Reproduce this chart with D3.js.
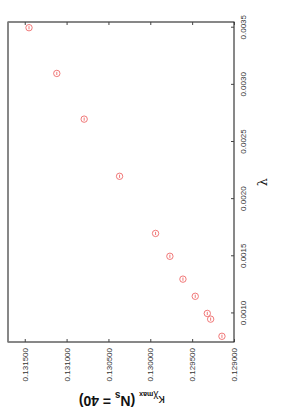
<!DOCTYPE html>
<html>
<head>
<meta charset="utf-8">
<script src="https://cdn.jsdelivr.net/npm/d3@7"></script>
<style>
  body { margin: 0; background: #fff; }
  svg { display: block; }
  .tick text { font-family: "Liberation Sans", Arial, sans-serif; font-size: 8px; fill: #333; }
  .tick line { stroke: #444; }
</style>
</head>
<body>
<div id="chart"></div>
<script>
// data (lambda vs kappa at chi max, Ns = 40)
const lambda = [0.0035, 0.0031, 0.0027, 0.0022, 0.0017, 0.0015, 0.0013, 0.00115, 0.0010, 0.00095, 0.0008]
const kappa = [0.131449, 0.131117, 0.130790, 0.130367, 0.129937, 0.129766, 0.129610, 0.129463, 0.129319, 0.129279, 0.129144]
const lambdaTicks = [0.0010, 0.0015, 0.0020, 0.0025, 0.0030, 0.0035]
const kappaTicks = [0.1290, 0.1295, 0.1300, 0.1305, 0.1310, 0.1315]

const svgWidth = 291
const svgHeight = 415

// the whole plot is drawn unrotated, then turned a quarter turn
const W = svgHeight, H = svgWidth
const margin = { left: 73, right: 22, top: 8, bottom: 57 }
const width = W - margin.left - margin.right
const height = H - margin.top - margin.bottom

const svg = d3.select('#chart')
    .append('svg')
    .attr('width', svgWidth)
    .attr('height', svgHeight)

const g = svg.append('g')
    .attr('transform', `translate(0,${svgHeight}) rotate(-90)`)
    .append('g')
    .attr('transform', `translate(${margin.left},${margin.top})`)

const x = d3.scaleLinear()
    .domain([0.00075, 0.00355])
    .range([0, width])

const y = d3.scaleLinear()
    .domain([0.1290, 0.1317])
    .range([height, 0])

// frame
g.append('rect')
    .attr('width', width)
    .attr('height', height)
    .attr('fill', 'none')
    .attr('stroke', '#111')
    .attr('stroke-width', 1)
g.append('line')
    .attr('x1', 0).attr('x2', width)
    .attr('y1', 0).attr('y2', 0)
    .attr('stroke', '#888')
    .attr('stroke-width', 1.6)

// lambda axis
const xAxis = g.append('g')
    .attr('transform', `translate(0,${height})`)
    .call(d3.axisBottom(x).tickValues(lambdaTicks).tickFormat(d3.format('.4f'))
        .tickSizeInner(-3).tickSizeOuter(0).tickPadding(6))
xAxis.select('.domain').remove()

// kappa axis + mirror
const yAxis = g.append('g')
    .call(d3.axisLeft(y).tickValues(kappaTicks).tickFormat(d3.format('.6f'))
        .tickSizeInner(-3).tickSizeOuter(0).tickPadding(6))
yAxis.select('.domain').remove()

const yMirror = g.append('g')
    .attr('transform', `translate(${width},0)`)
    .call(d3.axisRight(y).tickValues(kappaTicks).tickFormat('')
        .tickSizeInner(-3).tickSizeOuter(0))
yMirror.select('.domain').remove()

// axis labels
g.append('text')
    .attr('x', x(0.00215))
    .attr('y', height + 33)
    .attr('text-anchor', 'middle')
    .style('font-family', '"DejaVu Serif", serif')
    .style('font-size', '13px')
    .attr('fill', '#111')
    .text('λ')

const ylab = g.append('text')
    .attr('transform', `translate(${-53.5},${y(0.13034)}) rotate(-90)`)
    .attr('text-anchor', 'middle')
    .style('font-family', '"Liberation Sans", Arial, sans-serif')
    .style('font-size', '14px')
    .style('font-weight', 'bold')
    .attr('fill', '#111')
ylab.append('tspan').text('κ').style('font-weight', 'normal').style('font-size', '13px')
ylab.append('tspan').text('χ').attr('dy', 3).style('font-size', '10px').style('font-weight', 'normal')
ylab.append('tspan').text('max').attr('dy', 1).style('font-size', '7px')
ylab.append('tspan').text(' (N').attr('dy', -4)
ylab.append('tspan').text('s').attr('dy', 4).style('font-size', '10px')
ylab.append('tspan').text(' = 40)').attr('dy', -4)

// points with a small bar inside
const pts = lambda.map((l, i) => ({ lambda: l, kappa: kappa[i] }))
const color = '#ee6a6a'

g.append('g')
    .selectAll('circle')
    .data(pts)
    .join('circle')
    .attr('cx', d => x(d.lambda))
    .attr('cy', d => y(d.kappa))
    .attr('r', 3.2)
    .attr('fill', 'none')
    .attr('stroke', color)
    .attr('stroke-width', 0.9)

g.append('g')
    .selectAll('line')
    .data(pts)
    .join('line')
    .attr('x1', d => x(d.lambda) - 1.6)
    .attr('x2', d => x(d.lambda) + 1.6)
    .attr('y1', d => y(d.kappa))
    .attr('y2', d => y(d.kappa))
    .attr('stroke', color)
    .attr('stroke-width', 0.9)
</script>
</body>
</html>
